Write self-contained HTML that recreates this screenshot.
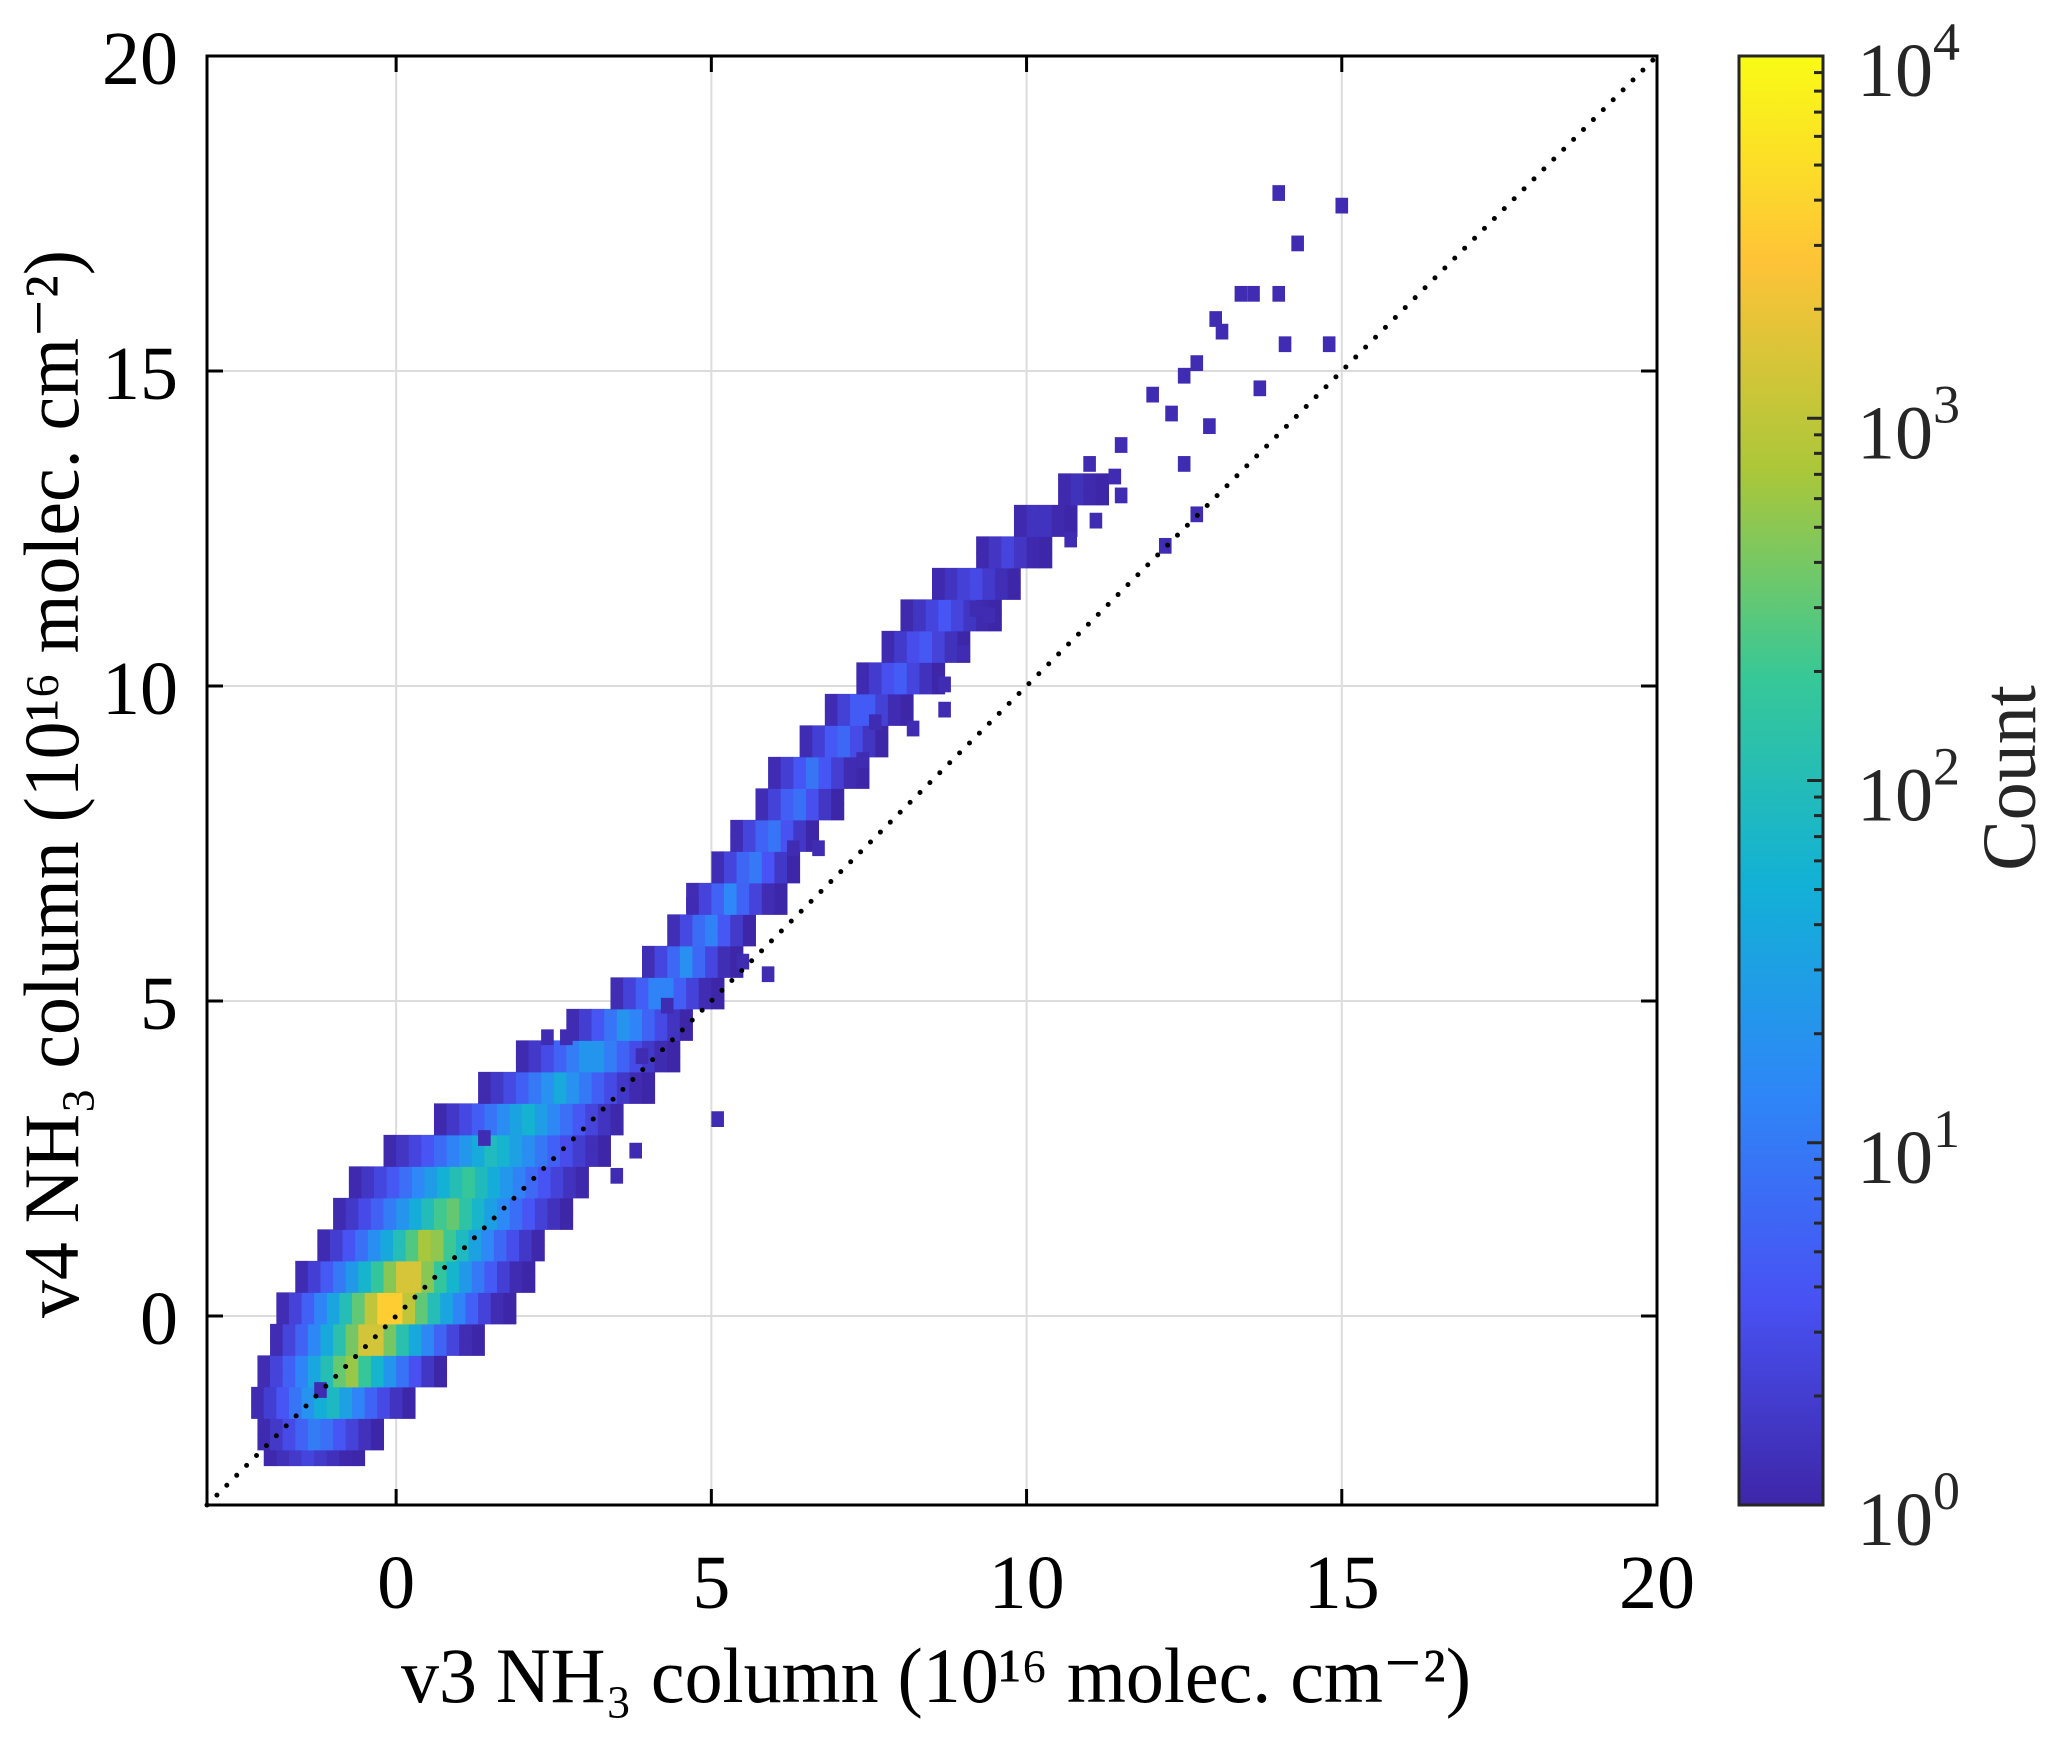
<!DOCTYPE html>
<html><head><meta charset="utf-8"><style>
html,body{margin:0;padding:0;background:#fff;}
svg{display:block;font-family:"Liberation Serif","DejaVu Serif",serif;}
</style></head><body>
<svg id="chart" width="2067" height="1737" viewBox="0 0 2067 1737" xmlns="http://www.w3.org/2000/svg">
<defs>
<linearGradient id="parula" x1="0" y1="1" x2="0" y2="0">
<stop offset="0" stop-color="rgb(62,38,168)"/><stop offset="0.1429" stop-color="rgb(72,82,244)"/><stop offset="0.2857" stop-color="rgb(46,135,247)"/><stop offset="0.4286" stop-color="rgb(18,177,214)"/><stop offset="0.5714" stop-color="rgb(55,200,151)"/><stop offset="0.7143" stop-color="rgb(171,199,57)"/><stop offset="0.8571" stop-color="rgb(254,195,56)"/><stop offset="1" stop-color="rgb(249,251,21)"/>
</linearGradient>
<clipPath id="plotclip"><rect x="207" y="56" width="1450" height="1449"/></clipPath>
</defs>
<g id="grid"></g>
<g id="cells" clip-path="url(#plotclip)"></g>
<g id="diag"></g>
<g id="axes"></g>
<g id="cbar"></g>
<text x="936" y="1702" font-size="78" text-anchor="middle" textLength="1070" lengthAdjust="spacingAndGlyphs">v3 NH₃ column (10¹⁶ molec. cm⁻²)</text>
<text transform="translate(78,784) rotate(-90)" font-size="78" text-anchor="middle" textLength="1068" lengthAdjust="spacingAndGlyphs">v4 NH₃ column (10¹⁶ molec. cm⁻²)</text>
<text transform="translate(2035,778) rotate(-90)" font-size="76" fill="#262626" text-anchor="middle">Count</text>
</svg>
<script>
// ---- data ----
const xTicks = [0, 5, 10, 15, 20];
const yTicks = [0, 5, 10, 15, 20];
const cbarTicks = [0, 1, 2, 3, 4];
const rowY = [-2.25,-2,-1.5,-1,-0.5,0,0.5,1,1.5,2,2.5,3,3.5,4,4.5,5,5.5,6,6.5,7,7.5,8,8.5,9,9.5,10,10.5,11,11.5,12,12.5,13];
const rowXmin = [-2.1,-2.2,-2.3,-2.2,-2.0,-1.9,-1.6,-1.25,-1.0,-0.75,-0.2,0.6,1.3,1.9,2.7,3.4,3.9,4.3,4.6,5.0,5.3,5.7,5.9,6.4,6.8,7.3,7.7,8.0,8.5,9.2,9.8,10.5];
const rowXmax = [-0.7,-0.3,0.2,0.7,1.2,1.7,2.0,2.3,2.7,3.0,3.3,3.55,3.9,4.3,4.6,5.0,5.3,5.6,6.0,6.3,6.6,7.0,7.3,7.7,8.0,8.6,9.0,9.4,9.8,10.2,10.6,11.1];
const rowPeakLog = [0.4,1.1,2.0,2.9,3.4,3.8,3.4,3.0,2.6,2.3,2.0,1.8,1.6,1.5,1.4,1.3,1.25,1.2,1.15,1.1,1.05,1.0,0.95,0.9,0.85,0.75,0.7,0.6,0.5,0.4,0.25,0.15];
const outX = [13.9,14.9,14.2,13.3,13.5,13.9,12.9,13.0,14.0,14.7,12.6,12.4,13.6,11.9,12.2,12.8,11.4,12.4,11.3,11.4,10.9,11.0,10.6,12.1,12.6,9.3,8.6,8.6,8.9,9.1,7.3,8.1,7.5,6.6,6.2,5.4,4.1,3.8,4.2,4.6,5.0,5.8,3.7,3.4,2.6,2.3,1.3,-1.3];
const outY = [17.7,17.5,16.9,16.1,16.1,16.1,15.7,15.5,15.3,15.3,15.0,14.8,14.6,14.5,14.2,14.0,13.7,13.4,13.2,12.9,13.4,12.5,12.2,12.1,12.6,11.0,9.5,9.9,10.4,11.1,8.7,9.2,9.3,7.3,7.3,5.5,4.1,4.0,4.8,6.4,3.0,5.3,2.5,2.1,4.3,4.3,2.7,-1.3];

const NS = 'http://www.w3.org/2000/svg';
const X0 = 207, X1 = 1657, Y0 = 1505, Y1 = 56, XMIN = -3, XMAX = 20, YMIN = -3, YMAX = 20;
const sx = v => X0 + (v - XMIN) / (XMAX - XMIN) * (X1 - X0);
const sy = v => Y0 - (v - YMIN) / (YMAX - YMIN) * (Y0 - Y1);
const CB = {x0:1739, x1:1823, top:56, bot:1505};
const cy = l => CB.bot - l / 4 * (CB.bot - CB.top);
function mk(tag, attrs, parent){ const e=document.createElementNS(NS,tag); for(const k in attrs) e.setAttribute(k,attrs[k]); parent.appendChild(e); return e; }
const stops=[[62,38,168],[72,82,244],[46,135,247],[18,177,214],[55,200,151],[171,199,57],[254,195,56],[249,251,21]];
function parula(t){ t=Math.max(0,Math.min(1,t))*7; const i=Math.min(6,Math.floor(t)), f=t-i; const a=stops[i], b=stops[i+1];
  return 'rgb('+a.map((v,k)=>Math.round(v+(b[k]-v)*f)).join(',')+')'; }

// grid
const grid = document.getElementById('grid');
xTicks.forEach(t=>{ const l=mk('line',{x1:sx(t),x2:sx(t),y1:Y1,y2:Y0,stroke:'#dcdcdc','stroke-width':2},grid);
    });
yTicks.forEach(t=>{ const l=mk('line',{x1:X0,x2:X1,y1:sy(t),y2:sy(t),stroke:'#dcdcdc','stroke-width':2},grid);
    });

// heatmap cells
const cells = document.getElementById('cells');
const DX = 0.2, DY = 0.25;
rowY.forEach((yc,i)=>{
  const c=(rowXmin[i]+rowXmax[i])/2, hw=(rowXmax[i]-rowXmin[i])/2;
  [yc-DY/2, yc+DY/2].forEach(yb=>{
    for(let x=rowXmin[i]; x<=rowXmax[i]+1e-6; x+=DX){
      const t=Math.min(1,Math.abs(x+DX/2-c)/hw);
      const lg=Math.max(0,rowPeakLog[i]*Math.pow(1-t,1.3));
      const r=mk('rect',{x:sx(x),y:sy(yb+DY),width:sx(x+DX)-sx(x)+0.5,height:sy(yb)-sy(yb+DY)+0.5,fill:parula(lg/4)},cells);
       
    }
  });
});
outX.forEach((x,i)=>{
  const r=mk('rect',{x:sx(x),y:sy(outY[i]+DY),width:sx(x+DX)-sx(x),height:sy(outY[i])-sy(outY[i]+DY),fill:parula(0.02)},cells);
   
});

// 1:1 line
const diag=document.getElementById('diag');
const dl=mk('line',{x1:sx(-3),y1:sy(-3),x2:sx(20),y2:sy(20),stroke:'#000','stroke-width':5,'stroke-dasharray':'0 14','stroke-linecap':'round'},diag);
 

// axes
const axes=document.getElementById('axes');
const box=mk('rect',{x:X0,y:Y1,width:X1-X0,height:Y0-Y1,fill:'none',stroke:'#000','stroke-width':3},axes);
 
xTicks.forEach(t=>{
  const a=mk('line',{x1:sx(t),x2:sx(t),y1:Y0,y2:Y0-16,stroke:'#000','stroke-width':3},axes);
   
  const b=mk('line',{x1:sx(t),x2:sx(t),y1:Y1,y2:Y1+16,stroke:'#000','stroke-width':3},axes);
   
  const tx=mk('text',{x:sx(t),y:1608,'font-size':76,'text-anchor':'middle'},axes); tx.textContent=t;
   
});
yTicks.forEach(t=>{
  const a=mk('line',{x1:X0,x2:X0+16,y1:sy(t),y2:sy(t),stroke:'#000','stroke-width':3},axes);
   
  const b=mk('line',{x1:X1,x2:X1-16,y1:sy(t),y2:sy(t),stroke:'#000','stroke-width':3},axes);
   
  const tx=mk('text',{x:178,y:sy(t)+28,'font-size':76,'text-anchor':'end'},axes); tx.textContent=t;
   
});

// colorbar
const cbar=document.getElementById('cbar');
const cr=mk('rect',{x:CB.x0,y:CB.top,width:CB.x1-CB.x0,height:CB.bot-CB.top,fill:'url(#parula)',stroke:'#262626','stroke-width':3},cbar);
 
cbarTicks.forEach(d=>{
  const mj=mk('line',{x1:CB.x1,x2:CB.x1-16,y1:cy(d),y2:cy(d),stroke:'#262626','stroke-width':3},cbar);
   
  if(d<4){ for(let m=2;m<=9;m++){ const yy=cy(d+Math.log10(m));
    const mn=mk('line',{x1:CB.x1,x2:CB.x1-9,y1:yy,y2:yy,stroke:'#262626','stroke-width':3},cbar);
      } }
  const tx=mk('text',{x:1857,y:cy(d)+40,'font-size':76,fill:'#262626'},cbar);
   
  tx.appendChild(document.createTextNode('10'));
  const sp=mk('tspan',{dy:-36,'font-size':54},tx); sp.textContent=d;
});
</script>
</body></html>
